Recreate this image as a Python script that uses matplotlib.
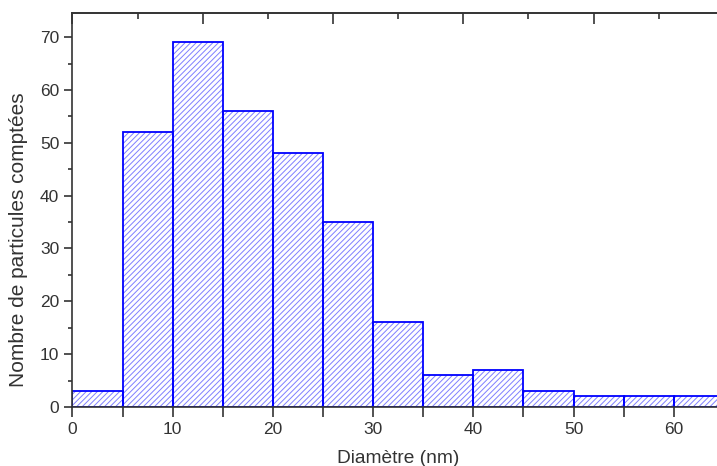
import numpy as np
import matplotlib
matplotlib.use("Agg")
import matplotlib.pyplot as plt
from matplotlib.ticker import MultipleLocator, NullFormatter

plt.rcParams['font.family'] = ['Liberation Sans', 'DejaVu Sans']
plt.rcParams['hatch.linewidth'] = 0.7

# histogramme des diametres (bins de 5 nm)
bin_edges = [0, 5, 10, 15, 20, 25, 30, 35, 40, 45, 50, 55, 60, 65]
counts = [3, 52, 69, 56, 48, 35, 16, 6, 7, 3, 2, 2, 2]

fig = plt.figure(figsize=(7.17, 4.66), dpi=100)
ax = fig.add_axes([0.1011, 0.1266, 0.9084, 0.8448])

lefts = np.array(bin_edges[:-1])
widths = np.diff(bin_edges)
ax.bar(lefts, counts, width=widths, align='edge', color='white',
       edgecolor='#7f7fff', hatch='//////', linewidth=0)
ax.bar(lefts, counts, width=widths, align='edge', color='none',
       edgecolor='#0000ff', linewidth=1.3)

ax.set_xlim(0, 65)
ax.set_ylim(0, 74.5)
ax.xaxis.set_major_locator(MultipleLocator(10))
ax.xaxis.set_minor_locator(MultipleLocator(5))
ax.yaxis.set_major_locator(MultipleLocator(10))
ax.yaxis.set_minor_locator(MultipleLocator(5))

ax.spines['right'].set_visible(False)
for s in ['left', 'bottom', 'top']:
    ax.spines[s].set_color('#333333')
    ax.spines[s].set_linewidth(1.2)

ax.tick_params(axis='y', which='major', direction='out', length=6, width=1.2,
               color='#333333', labelsize=12.5, labelcolor='#333333')
ax.tick_params(axis='y', which='minor', direction='out', length=3, width=1.2,
               color='#333333')
ax.tick_params(axis='x', which='both', direction='out', length=7, width=1.2,
               color='#333333', labelsize=12.5, labelcolor='#333333',
               top=False)

# axe du haut (graduations seules, pas de labels)
top = ax.secondary_xaxis('top')
top.xaxis.set_major_locator(MultipleLocator(13))
top.xaxis.set_minor_locator(MultipleLocator(6.5))
top.xaxis.set_major_formatter(NullFormatter())
top.tick_params(which='major', direction='in', length=8, width=1.2, color='#333333')
top.tick_params(which='minor', direction='in', length=4, width=1.2, color='#333333')
top.spines['top'].set_color('#333333')
top.spines['top'].set_linewidth(1.2)

ax.set_xlabel('Diamètre (nm)', fontsize=13.8, color='#333333', labelpad=10)
ax.set_ylabel('Nombre de particules comptées', fontsize=15, color='#333333')
ax.yaxis.set_label_coords(-0.068, 0.424)

fig.savefig('out.png', dpi=100)
